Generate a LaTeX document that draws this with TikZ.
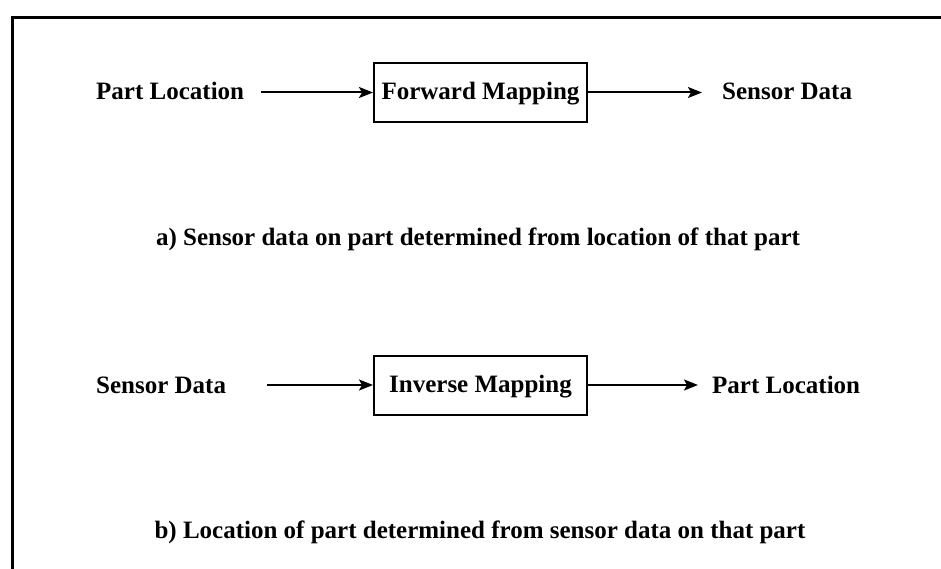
\documentclass[tikz,border=0pt]{standalone}
\usepackage{fontspec}
\setmainfont{Liberation Serif}
\usetikzlibrary{arrows.meta}
\begin{document}
\begin{tikzpicture}[x=1pt,y=-1pt,
  lbl/.style={font=\fontsize{25}{30}\selectfont\bfseries, inner sep=0pt},
  mapbox/.style={draw, line width=2pt, minimum width=213pt, minimum height=59pt,
    font=\fontsize{25}{30}\selectfont\bfseries, inner sep=0pt,
    text height=17pt, text depth=2pt},
  arr/.style={line width=2pt, -{Stealth[length=14pt,width=11pt,inset=3pt]}},
  framestyle/.style={line width=3pt, line cap=rect}]
\useasboundingbox (0,0) rectangle (941,569);
% frame
\coordinate (tl) at (12,18);
\coordinate (tr) at (941,18);
\coordinate (bl) at (12,569);
\draw[framestyle] (tr) -- (tl) -- (bl);
% row a
\node[mapbox] (fm) at (480.5,92.5) {Forward Mapping};
\node[lbl, anchor=base west] (pl1) at (96,100) {Part Location};
\node[lbl, anchor=base west] (sd1) at (722,100) {Sensor Data};
\draw[arr, shorten <=17pt] (pl1.east |- fm.west) -- (fm.west);
\draw[arr, shorten >=20pt] (fm.east) -- (sd1.west |- fm.east);
\node[lbl, anchor=base] (capa) at (478,245) {a) Sensor data on part determined from location of that part};
% row b
\node[mapbox] (im) at (480.5,385) {Inverse Mapping};
\node[lbl, anchor=base west] (sd2) at (96,393) {Sensor Data};
\node[lbl, anchor=base west] (pl2) at (712,393) {Part Location};
\draw[arr] ([xshift=41pt]sd2.east |- im.west) -- (im.west);
\draw[arr, shorten >=14pt] (im.east) -- (pl2.west |- im.east);
\node[lbl, anchor=base] (capb) at (480,538) {b) Location of part determined from sensor data on that part};
\end{tikzpicture}
\end{document}
